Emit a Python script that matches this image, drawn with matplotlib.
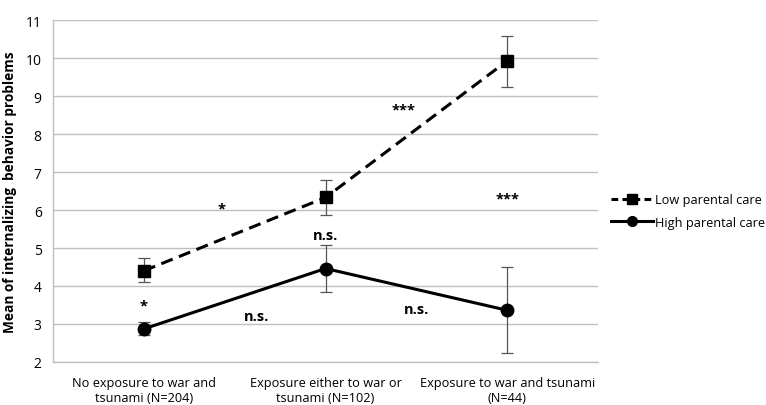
import matplotlib
matplotlib.use("Agg")
import matplotlib.pyplot as plt
from matplotlib.lines import Line2D

categories = ["No exposure to war and\ntsunami (N=204)",
              "Exposure either to war or\ntsunami (N=102)",
              "Exposure to war and tsunami\n(N=44)"]
low_care = [4.40, 6.33, 9.93]
low_err_lo = [4.10, 5.88, 9.25]
low_err_hi = [4.74, 6.80, 10.58]
high_care = [2.87, 4.46, 3.36]
high_err_lo = [2.70, 3.85, 2.23]
high_err_hi = [3.04, 5.07, 4.51]
annotations = [(0.43, 6.05, "*"), (1.0, 5.35, "n.s."), (1.43, 8.65, "***"),
               (2.0, 6.3, "***"), (0.0, 3.5, "*"), (0.62, 3.2, "n.s."),
               (1.5, 3.4, "n.s.")]

plt.rcParams['font.family'] = ['Open Sans', 'DejaVu Sans']
fig = plt.figure(figsize=(7.66, 4.06), dpi=100)
ax = fig.add_axes([0.069, 0.106, 0.712, 0.842])
x = list(range(len(categories)))

ax.errorbar(x, low_care,
            yerr=[[v - l for v, l in zip(low_care, low_err_lo)],
                  [h - v for v, h in zip(low_care, low_err_hi)]],
            fmt='none', ecolor='#555555', elinewidth=0.9, capsize=4, capthick=0.9, zorder=2)
ax.errorbar(x, high_care,
            yerr=[[v - l for v, l in zip(high_care, high_err_lo)],
                  [h - v for v, h in zip(high_care, high_err_hi)]],
            fmt='none', ecolor='#555555', elinewidth=0.9, capsize=4, capthick=0.9, zorder=2)
ax.plot(x, low_care, color='black', linestyle=(0, (4, 2.2)), linewidth=2.2,
        marker='s', markersize=9, zorder=3)
ax.plot(x, high_care, color='black', linestyle='-', linewidth=2.2,
        marker='o', markersize=9, zorder=3)

for xa, ya, t in annotations:
    ax.text(xa, ya, t, ha='center', va='center', fontsize=10.5, fontweight='bold')

ax.set_xlim(-0.5, 2.5)
ax.set_ylim(2, 11)
ax.set_yticks(range(2, 12))
ax.set_xticks(x)
ax.set_xticklabels(categories)
ax.tick_params(axis='both', length=0)
ax.tick_params(axis='x', pad=10, labelsize=9.2)
ax.tick_params(axis='y', pad=8, labelsize=10)
ax.grid(axis='y', color='#bfbfbf', linewidth=1)
ax.set_axisbelow(True)
for s in ['top', 'right']:
    ax.spines[s].set_visible(False)
for s in ['left', 'bottom']:
    ax.spines[s].set_color('#bfbfbf')
    ax.spines[s].set_linewidth(1)
ax.set_ylabel("Mean of internalizing  behavior problems", fontsize=9.8,
              fontweight='bold', labelpad=6)

handles = [Line2D([], [], color='black', linestyle=(0, (2.2, 1.4)), linewidth=2.2,
                  marker='s', markersize=7),
           Line2D([], [], color='black', linestyle='-', linewidth=2.2,
                  marker='o', markersize=7)]
fig.legend(handles, ["Low parental care", "High parental care"],
           loc='center left', bbox_to_anchor=(0.797, 0.478), frameon=False,
           fontsize=9.2, handlelength=3.3, handletextpad=0.15, labelspacing=0.75,
           borderaxespad=0.0, borderpad=0.0)

fig.savefig("out.png", dpi=100)
